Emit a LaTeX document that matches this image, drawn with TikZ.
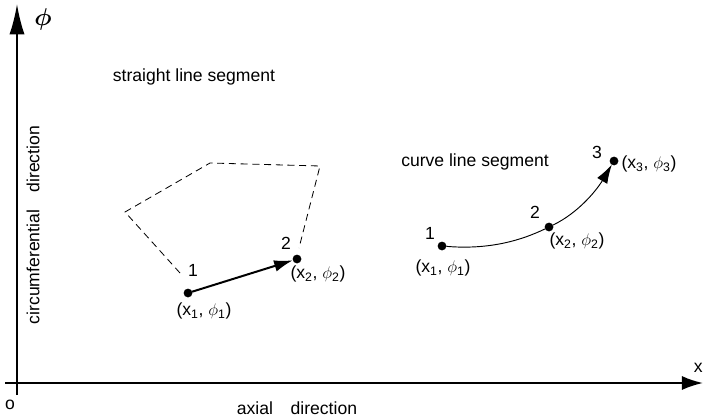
\documentclass[tikz,border=0pt]{standalone}
\usepackage{amsmath}
\usepackage{fontspec}
\setmainfont{Liberation Sans}
\usetikzlibrary{arrows.meta}

\newcommand*{\xmin}{5}
\newcommand*{\xmax}{703}
\newcommand*{\ymin}{395}
\newcommand*{\ymax}{4}

\begin{document}
\begin{tikzpicture}
[
	x=0.03cm, y=-0.03cm,
	closedpt/.style={circle,draw,fill,inner sep=0pt,minimum size=7pt},
	lbl/.style={font=\fontsize{15}{17}\selectfont,inner sep=1pt},
	bigarrow/.style={-{Latex[length=26pt,width=13pt]},line width=1.7pt},
	segarrow/.style={-{Latex[length=16pt,width=10pt]}}
]
	\useasboundingbox (0,0) rectangle (703,419);

	% axes
	\coordinate (o) at (17,383);
	\draw[bigarrow] (17,\ymin) -- (17,\ymax);
	\draw[-{Latex[length=18pt,width=12pt]},line width=1.7pt] (\xmin,383) -- (\xmax,383);
	\node[lbl] at (10,405) (olabel) {o};
	\node[lbl,anchor=east] at (704,368) (xlabel) {x};
	\node[font=\fontsize{20}{22}\selectfont] at (43,19) (philabel) {$\boldsymbol{\phi}$};
	\node[lbl] at (297,408) (axlabel) {axial\quad direction};
	\node[lbl,rotate=90] at (33,225) (cflabel) {circumferential\quad direction};

	% straight line segment
	\node[lbl] at (194,77) (slabel) {straight line segment};
	\node[closedpt] at (188,293) (s1) {};
	\node[closedpt] at (297,259) (s2) {};
	\node[lbl] at (193,270) {1};
	\node[lbl] at (286,243) {2};
	\node[lbl] at (204,311) {(x\textsubscript{1}, $\phi$\textsubscript{1})};
	\node[lbl] at (318,274) {(x\textsubscript{2}, $\phi$\textsubscript{2})};
	\draw[segarrow,line width=1.7pt] (s1) -- (s2);
	\draw[dash pattern=on 6pt off 4pt,line width=0.7pt] (180,273) -- (125,212) -- (210,163) -- (320,166) -- (299,248);

	% curve line segment
	\node[lbl] at (475,162) (clabel) {curve line segment};
	\node[closedpt] at (442,246) (c1) {};
	\node[closedpt] at (549,227) (c2) {};
	\node[closedpt] at (614,161) (c3) {};
	\node[lbl] at (430,233) {1};
	\node[lbl] at (535,212) {2};
	\node[lbl] at (597,152) {3};
	\node[lbl] at (443,268) {(x\textsubscript{1}, $\phi$\textsubscript{1})};
	\node[lbl] at (577,241) {(x\textsubscript{2}, $\phi$\textsubscript{2})};
	\node[lbl] at (649,164) {(x\textsubscript{3}, $\phi$\textsubscript{3})};
	\draw[line width=0.8pt] (c1) .. controls (490,250) and (522,240) .. (c2);
	\draw[segarrow,line width=0.8pt] (c2) .. controls (580,212) and (598,188) .. (c3);

\end{tikzpicture}
\end{document}
